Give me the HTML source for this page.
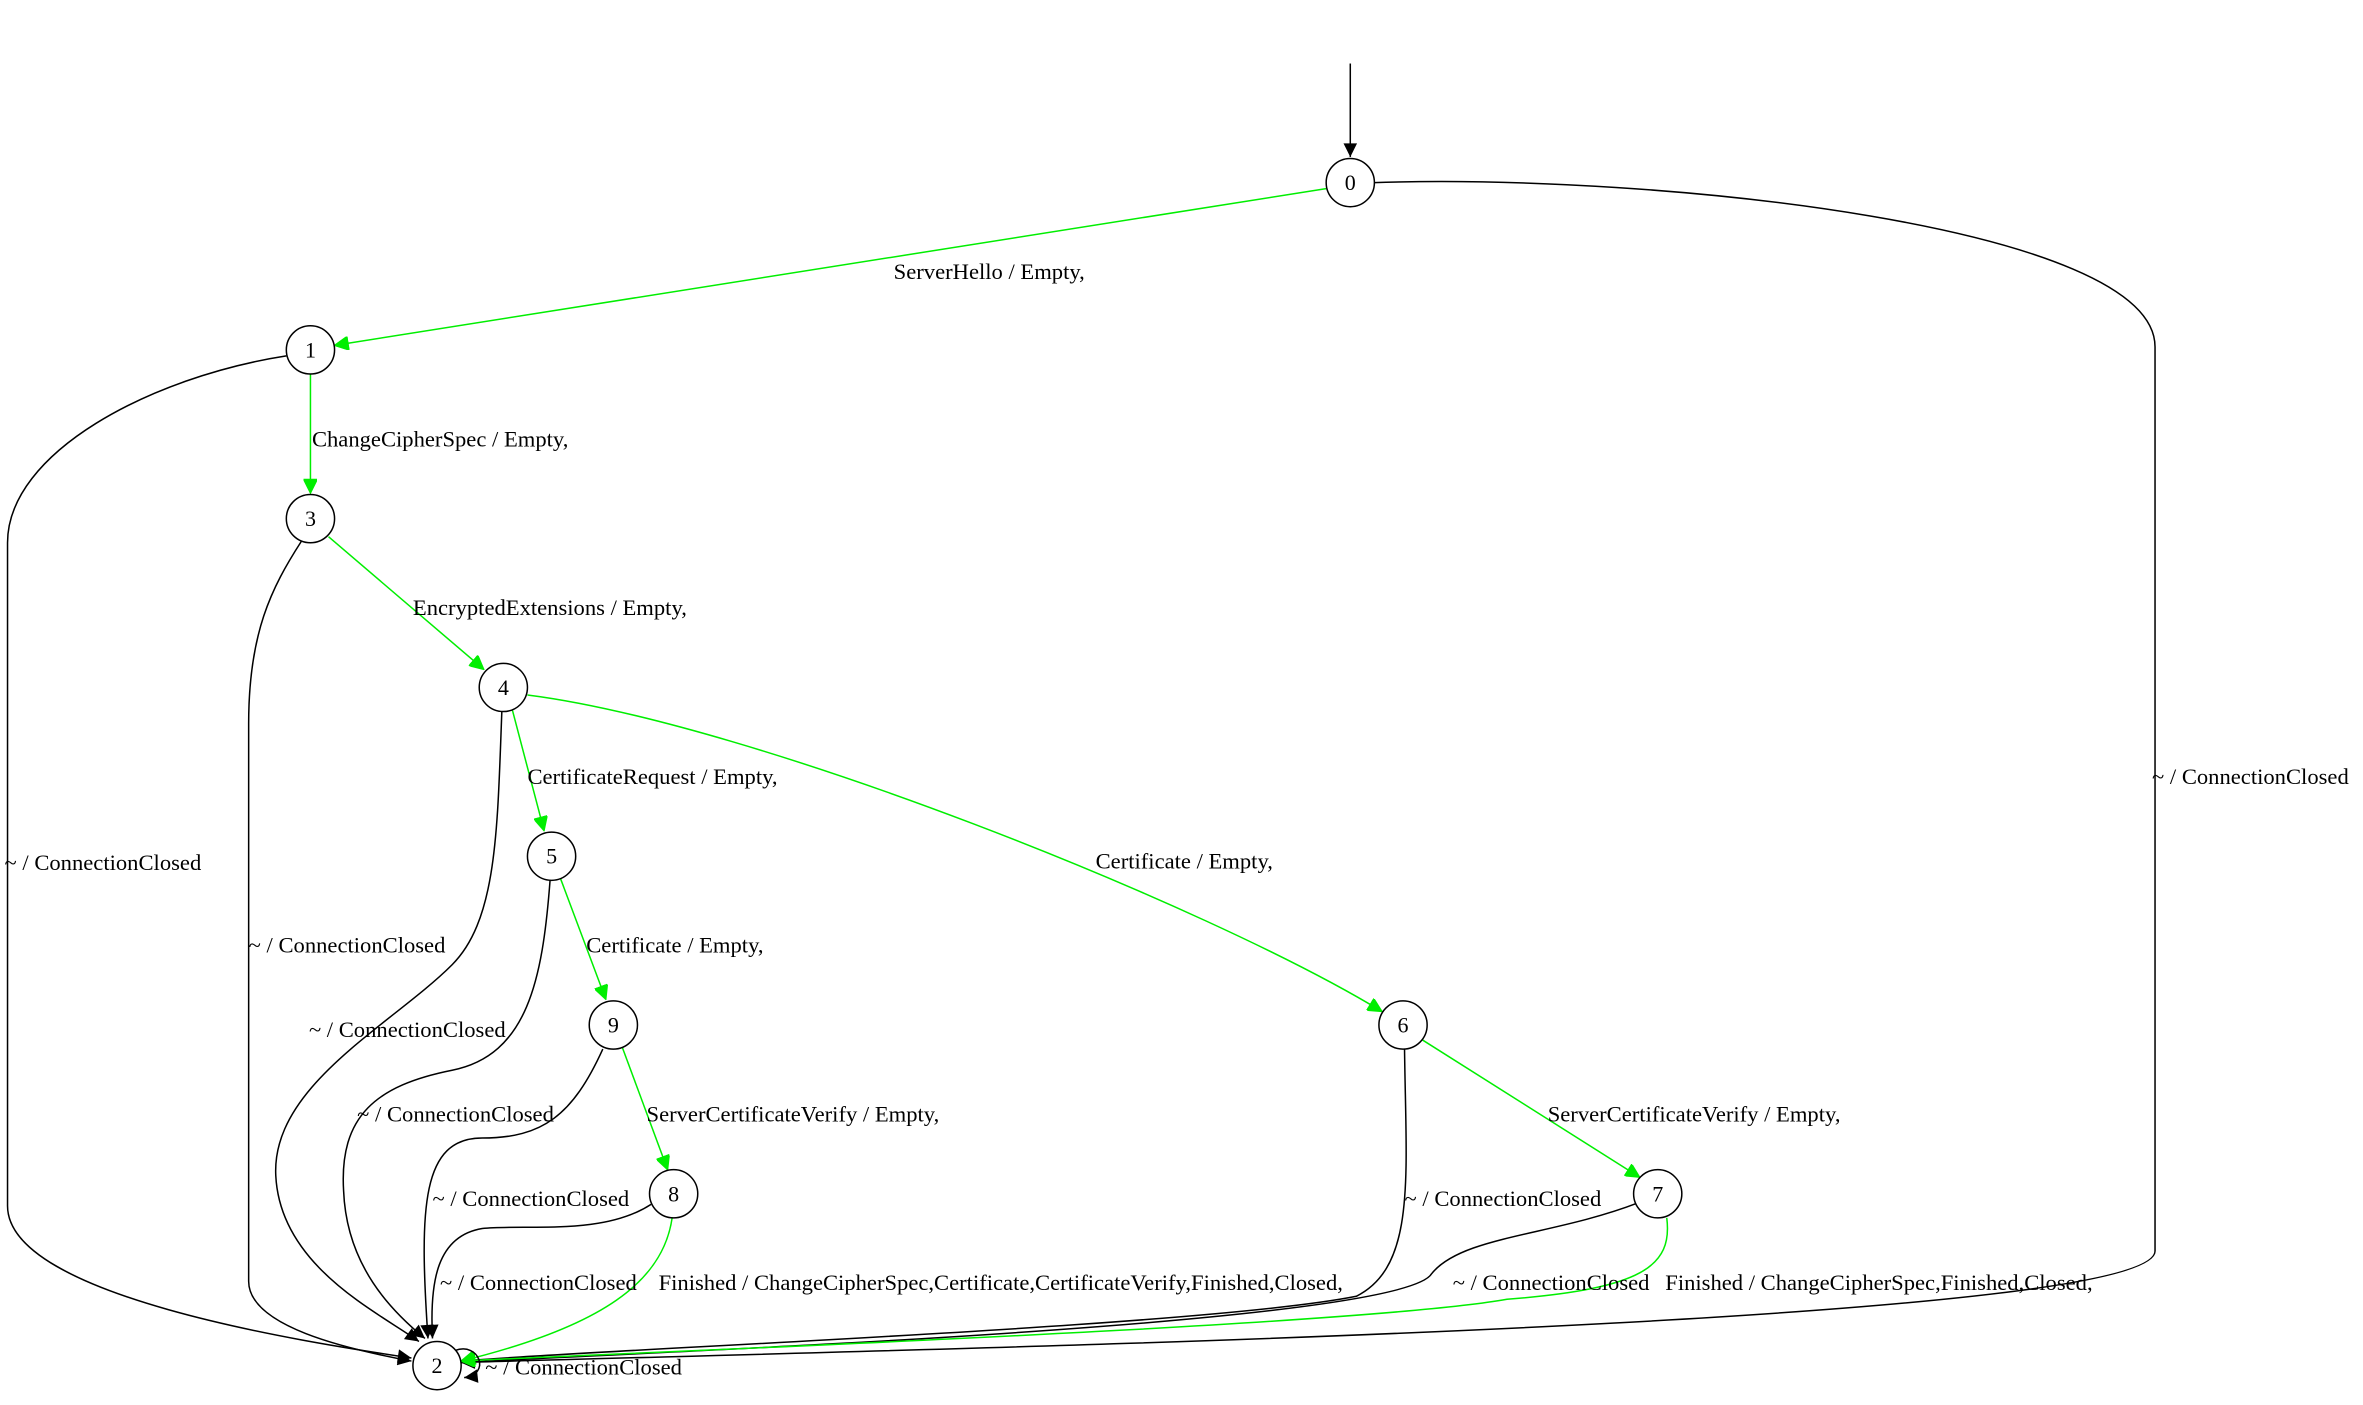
<!DOCTYPE html>
<html><head><meta charset="utf-8"><style>html,body{margin:0;padding:0;background:#fff;overflow:hidden;width:2363px;height:1405px}svg{display:block}</style></head>
<body>
<svg width="2363" height="1405" viewBox="0 0 1568 932" xmlns="http://www.w3.org/2000/svg" font-family="Liberation Serif, serif" font-size="15">
<defs>
<marker id="ab" viewBox="0 0 10 10" refX="10" refY="5" markerWidth="10" markerHeight="9" orient="auto" markerUnits="userSpaceOnUse"><path d="M0,0L10,5L0,10z" fill="#000"/></marker>
<marker id="ag" viewBox="0 0 10 10" refX="10" refY="5" markerWidth="10" markerHeight="9" orient="auto" markerUnits="userSpaceOnUse"><path d="M0,0L10,5L0,10z" fill="#00ee00" stroke="#00ee00"/></marker>
</defs>
<g fill="none" stroke-width="1">
<path d="M896,42L896,104" stroke="#000" marker-end="url(#ab)"/>
<path d="M880,125L222,229" stroke="#00ee00" marker-end="url(#ag)"/>
<path d="M912,121C1100,115 1430,150 1430,230L1430,830C1430,880 600,895 306,904" stroke="#000" marker-end="url(#ab)"/>
<path d="M206,248L206,327" stroke="#00ee00" marker-end="url(#ag)"/>
<path d="M190,236C100,250 5,300 5,360L5,800C5,860 200,890 273,901" stroke="#000" marker-end="url(#ab)"/>
<path d="M218,356L321,444" stroke="#00ee00" marker-end="url(#ag)"/>
<path d="M200,359C180,390 165,420 165,480L165,850C165,880 230,895 273,903" stroke="#000" marker-end="url(#ab)"/>
<path d="M340,471L361,551" stroke="#00ee00" marker-end="url(#ag)"/>
<path d="M350,461C500,480 800,600 917,671" stroke="#00ee00" marker-end="url(#ag)"/>
<path d="M333,472C330,550 330,610 300,640C260,680 180,720 183,780C186,840 250,870 278,890" stroke="#000" marker-end="url(#ab)"/>
<path d="M372,583L402,663" stroke="#00ee00" marker-end="url(#ag)"/>
<path d="M365,584C360,650 350,700 300,710C250,720 225,740 228,790C230,840 260,870 282,888" stroke="#000" marker-end="url(#ab)"/>
<path d="M413,695L443,776" stroke="#00ee00" marker-end="url(#ag)"/>
<path d="M400,696C380,740 360,755 320,755C280,755 278,800 284,888" stroke="#000" marker-end="url(#ab)"/>
<path d="M944,690L1088,781" stroke="#00ee00" marker-end="url(#ag)"/>
<path d="M932,696C933,780 940,840 900,860C800,880 400,895 306,903" stroke="#000" marker-end="url(#ab)"/>
<path d="M432,799C400,820 350,812 320,815C290,820 285,850 287,888" stroke="#000" marker-end="url(#ab)"/>
<path d="M446,808C440,850 400,880 306,903" stroke="#00ee00" marker-end="url(#ag)"/>
<path d="M1087,798C1030,820 970,820 950,845C930,880 400,898 306,904" stroke="#000" marker-end="url(#ab)"/>
<path d="M1106,808C1110,840 1090,855 1000,862C900,880 400,898 306,903" stroke="#00ee00" marker-end="url(#ag)"/>
<path d="M302,896C318,890 326,912 308,914" stroke="#000" marker-end="url(#ab)"/>
</g>
<g fill="#fff" stroke="#000">
<circle cx="896" cy="121" r="16"/><circle cx="206" cy="232" r="16"/><circle cx="206" cy="344" r="16"/>
<circle cx="334" cy="456" r="16"/><circle cx="366" cy="568" r="16"/><circle cx="407" cy="680" r="16"/>
<circle cx="931" cy="680" r="16"/><circle cx="447" cy="792" r="16"/><circle cx="1100" cy="792" r="16"/>
<circle cx="290" cy="906" r="16"/>
</g>
<g text-anchor="middle" font-size="14.6">
<text x="896" y="126">0</text><text x="206" y="237">1</text><text x="206" y="349">3</text>
<text x="334" y="461">4</text><text x="366" y="573">5</text><text x="407" y="685">9</text>
<text x="931" y="685">6</text><text x="447" y="797">8</text><text x="1100" y="797">7</text>
<text x="290" y="911">2</text>
</g>
<g>
<text x="593" y="185">ServerHello / Empty,</text>
<text x="1428" y="520">~ / ConnectionClosed</text>
<text x="207" y="296">ChangeCipherSpec / Empty,</text>
<text x="3" y="577">~ / ConnectionClosed</text>
<text x="274" y="408">EncryptedExtensions / Empty,</text>
<text x="165" y="632">~ / ConnectionClosed</text>
<text x="350" y="520">CertificateRequest / Empty,</text>
<text x="727" y="576">Certificate / Empty,</text>
<text x="205" y="688">~ / ConnectionClosed</text>
<text x="389" y="632">Certificate / Empty,</text>
<text x="237" y="744">~ / ConnectionClosed</text>
<text x="429" y="744">ServerCertificateVerify / Empty,</text>
<text x="1027" y="744">ServerCertificateVerify / Empty,</text>
<text x="287" y="800">~ / ConnectionClosed</text>
<text x="932" y="800">~ / ConnectionClosed</text>
<text x="292" y="856">~ / ConnectionClosed</text>
<text x="437" y="856">Finished / ChangeCipherSpec,Certificate,CertificateVerify,Finished,Closed,</text>
<text x="964" y="856">~ / ConnectionClosed</text>
<text x="1105" y="856">Finished / ChangeCipherSpec,Finished,Closed,</text>
<text x="322" y="912">~ / ConnectionClosed</text>
</g>
</svg>
</body></html>
